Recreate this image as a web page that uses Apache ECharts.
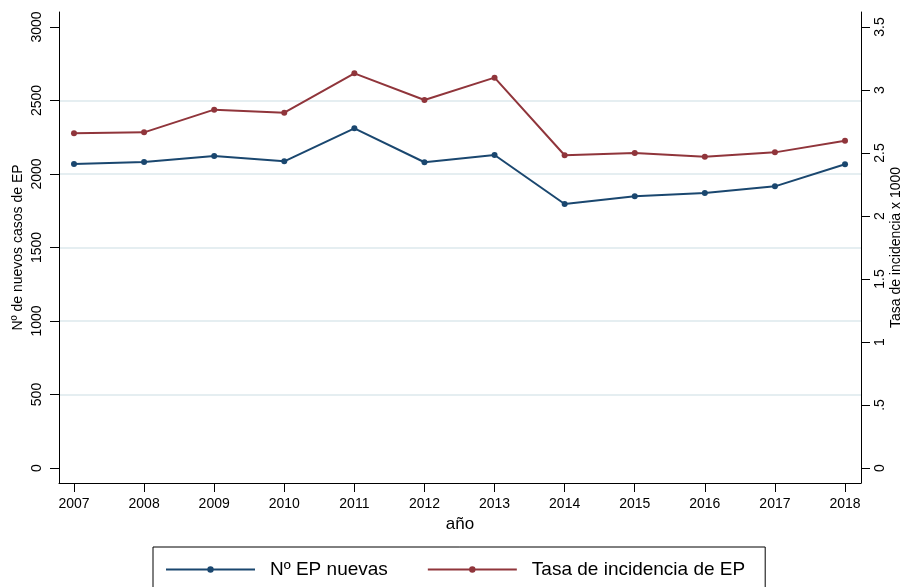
<!DOCTYPE html>
<html style="height: 100%">
<head>
    <meta charset="utf-8">
    <script type="text/javascript" src="https://cdn.jsdelivr.net/npm/echarts@6/dist/echarts.min.js"></script>
</head>
<body style="height: 100%; margin: 0; background: #fff">
<div id="container" style="width: 904px; height: 587px"></div>

<script type="text/javascript">
    // data
    var years = [2007, 2008, 2009, 2010, 2011, 2012, 2013, 2014, 2015, 2016, 2017, 2018];
    var nuevas = [2068, 2082, 2122, 2086, 2311, 2080, 2129, 1796, 1848, 1871, 1916, 2066];
    var tasa = [2.656, 2.664, 2.844, 2.820, 3.132, 2.921, 3.098, 2.482, 2.500, 2.471, 2.505, 2.598];

    var casosTicks = [0, 500, 1000, 1500, 2000, 2500, 3000];
    var casosGrid = [500, 1000, 1500, 2000, 2500];
    var tasaTicks = [0, 0.5, 1, 1.5, 2, 2.5, 3, 3.5];

    var font = '"Liberation Sans", Arial, sans-serif';
    var navy = '#1a476f';
    var maroon = '#90353b';

    function pairs(vals) {
        return years.map(function (y, i) { return [y, vals[i]]; });
    }

    var dom = document.getElementById('container');
    var myChart = echarts.init(dom, null, {renderer: 'canvas'});

    var option = {
        backgroundColor: '#fff',
        animation: false,
        textStyle: {fontFamily: font, color: '#000'},
        grid: {left: 59, right: 43, top: 12, bottom: 104, outerBoundsMode: 'none', containLabel: false},
        xAxis: {
            type: 'value',
            min: 2006.786,
            max: 2018.228,
            name: 'año',
            nameLocation: 'middle',
            nameGap: 30,
            nameTextStyle: {fontSize: 17, fontFamily: font, color: '#000'},
            axisLine: {show: true, onZero: false, lineStyle: {color: '#000', width: 1}},
            axisTick: {show: true, length: 9, customValues: years, lineStyle: {color: '#000'}},
            axisLabel: {
                customValues: years, fontSize: 14, color: '#000', margin: 14,
                formatter: function (v) { return String(v); }
            },
            splitLine: {show: false}
        },
        yAxis: [{
            type: 'value',
            position: 'left',
            min: -102,
            max: 3102,
            name: 'Nº de nuevos casos de EP',
            nameLocation: 'middle',
            nameRotate: 90,
            nameGap: 34,
            nameMoveOverlap: false,
            nameTextStyle: {fontSize: 14, fontFamily: font, color: '#000'},
            axisLine: {show: true, onZero: false, lineStyle: {color: '#000', width: 1}},
            axisTick: {show: true, length: 9, customValues: casosTicks, lineStyle: {color: '#000'}},
            axisLabel: {
                customValues: casosTicks, fontSize: 14, color: '#000', rotate: 90, margin: 15,
                formatter: function (v) { return String(v); }
            },
            splitLine: {show: false}
        }, {
            type: 'value',
            position: 'right',
            min: -0.119,
            max: 3.619,
            name: 'Tasa de incidencia x 1000',
            nameLocation: 'middle',
            nameRotate: 90,
            nameGap: 28,
            nameMoveOverlap: false,
            nameTextStyle: {fontSize: 14, fontFamily: font, color: '#000'},
            axisLine: {show: true, onZero: false, lineStyle: {color: '#000', width: 1}},
            axisTick: {show: true, length: 9, customValues: tasaTicks, lineStyle: {color: '#000'}},
            axisLabel: {
                customValues: tasaTicks, fontSize: 14, color: '#000', rotate: 90, margin: 12,
                formatter: function (v) { return v === 0 ? '0' : String(v).replace(/^0\./, '.'); }
            },
            splitLine: {show: false}
        }, {
            // hidden axis that only carries the gridlines
            type: 'value',
            position: 'left',
            min: -102,
            max: 3102,
            axisLine: {show: false},
            axisTick: {show: false, customValues: casosGrid},
            axisLabel: {show: false, customValues: casosGrid},
            splitLine: {show: true, lineStyle: {color: '#dde8ec', width: 1.5}}
        }],
        legend: {
            left: 153,
            top: 547,
            padding: [13, 20, 14, 12],
            borderColor: '#000',
            borderWidth: 1,
            itemWidth: 89,
            itemHeight: 8,
            itemGap: 39,
            textStyle: {fontSize: 19, fontFamily: font, color: '#000', padding: [0, 0, 0, 10]},
            data: ['Nº EP nuevas', 'Tasa de incidencia de EP']
        },
        series: [{
            name: 'Nº EP nuevas',
            type: 'line',
            xAxisIndex: 0,
            yAxisIndex: 0,
            data: pairs(nuevas),
            symbol: 'circle',
            symbolSize: 6,
            itemStyle: {color: navy},
            lineStyle: {color: navy, width: 2}
        }, {
            name: 'Tasa de incidencia de EP',
            type: 'line',
            xAxisIndex: 0,
            yAxisIndex: 1,
            data: pairs(tasa),
            symbol: 'circle',
            symbolSize: 6,
            itemStyle: {color: maroon},
            lineStyle: {color: maroon, width: 2}
        }]
    };

    myChart.setOption(option);
</script>

</body>
</html>
